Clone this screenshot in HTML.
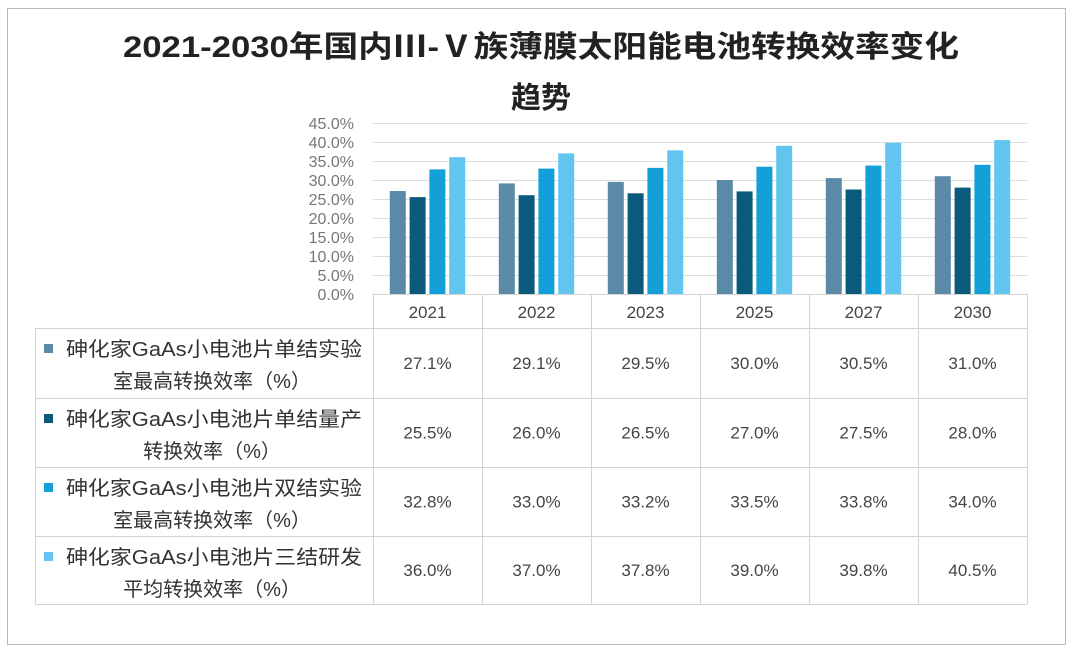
<!DOCTYPE html>
<html><head><meta charset="utf-8"><style>
html,body{margin:0;padding:0;background:#fff;}
svg{display:block;font-family:"Liberation Sans","Noto Sans CJK SC",sans-serif;}
</style></head><body>
<svg id="chart" width="1074" height="657" viewBox="0 0 1074 657">
<rect x="7.5" y="8.5" width="1058" height="636" fill="#fff" stroke="#b8b8b8"/>
<text x="541" y="57" text-anchor="middle" font-size="30" font-weight="bold" fill="#222" textLength="836" lengthAdjust="spacingAndGlyphs">2021-2030年国内Ⅲ-Ⅴ族薄膜太阳能电池转换效率变化</text>
<text x="541" y="108" text-anchor="middle" font-size="30" font-weight="bold" fill="#222">趋势</text>
<g id="grid"></g><g id="bars"></g><g id="table"></g>
</svg>
<script>
const categories=["2021","2022","2023","2025","2027","2030"];
const seriesLines=[["砷化家GaAs小电池片单结实验","室最高转换效率（%）"],["砷化家GaAs小电池片单结量产","转换效率（%）"],["砷化家GaAs小电池片双结实验","室最高转换效率（%）"],["砷化家GaAs小电池片三结研发","平均转换效率（%）"]];
const s1=[27.1,29.1,29.5,30.0,30.5,31.0];
const s2=[25.5,26.0,26.5,27.0,27.5,28.0];
const s3=[32.8,33.0,33.2,33.5,33.8,34.0];
const s4=[36.0,37.0,37.8,39.0,39.8,40.5];
const yTicks=[0,5,10,15,20,25,30,35,40,45];
const colors=["#5b8aa6","#0b5a7c","#139fd8","#62c5ef"];
const series=[s1,s2,s3,s4];
const NS="http://www.w3.org/2000/svg";
const X0=373,X1=1027,Y0=294,Y1=123,YMAX=45;
const bw=(X1-X0)/categories.length;
function y(v){return Y0-(v/YMAX)*(Y0-Y1);}
function xc(i){return X0+bw*(i+0.5);}
function mk(tag,attrs,parent,txt){const e=document.createElementNS(NS,tag);for(const k in attrs)e.setAttribute(k,attrs[k]);if(txt!==undefined)e.textContent=txt;parent.appendChild(e);return e;}
const grid=document.getElementById('grid'),bars=document.getElementById('bars'),tbl=document.getElementById('table');
yTicks.forEach(t=>{
  const l=mk('line',{x1:X0,x2:X1,y1:y(t)+0.5,y2:y(t)+0.5,stroke:'#dcdcdc'},grid);
  
  
  const tx=mk('text',{x:354,y:y(t)+6,'text-anchor':'end','font-size':16,fill:'#777'},grid,t.toFixed(1)+'%');
  
  
});
const barW=16,step=19.8;
series.forEach((s,si)=>{
  s.forEach((v,i)=>{
    const x=xc(i)+(si-1.5)*step-barW/2;
    const r=mk('rect',{x:x,y:y(v),width:barW,height:Y0-y(v),fill:colors[si]},bars);
    
    
  });
});
const rowY=[294,328,398,467,536,604];
const TL=35;
const lc='#d4d4d4';
function ln(x1,y1,x2,y2){const l=mk('line',{x1:x1,y1:y1,x2:x2,y2:y2,stroke:lc},tbl);}
for(let i=0;i<=categories.length;i++){const x=X0+bw*i+0.5;ln(x,294,x,604);}
ln(TL+0.5,328,TL+0.5,604);
ln(X0,294.5,X1,294.5);
for(let r=1;r<rowY.length;r++){ln(TL,rowY[r]+0.5,X1,rowY[r]+0.5);}
categories.forEach((c,i)=>{
  const t=mk('text',{x:xc(i),y:318,'text-anchor':'middle','font-size':17,fill:'#444'},tbl,c);
  
  
});
series.forEach((s,si)=>{
  const top=rowY[si+1],bot=rowY[si+2],mid=(top+bot)/2;
  const sw=mk('rect',{x:44,y:top+16,width:9,height:9,fill:colors[si]},tbl);
  
  
  const t1=mk('text',{x:214,y:top+28,'text-anchor':'middle','font-size':20,fill:'#333',textLength:296,lengthAdjust:'spacingAndGlyphs'},tbl,seriesLines[si][0]);
  
  
  const t2=mk('text',{x:212,y:top+60,'text-anchor':'middle','font-size':20,fill:'#333'},tbl,seriesLines[si][1]);
  
  
  s.forEach((v,i)=>{
    const t=mk('text',{x:xc(i),y:mid+6,'text-anchor':'middle','font-size':17,fill:'#444'},tbl,v.toFixed(1)+'%');
    
    
  });
});
</script>
</body></html>
